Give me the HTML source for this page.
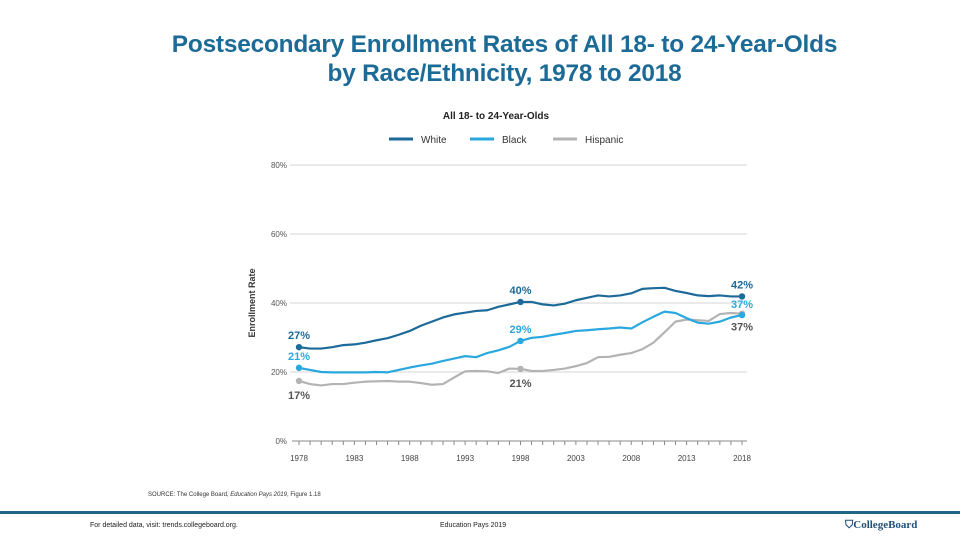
<!DOCTYPE html>
<html><head><meta charset="utf-8">
<style>
body{margin:0;width:960px;height:540px;background:#fff;font-family:"Liberation Sans",sans-serif;overflow:hidden;position:relative}
.t{position:absolute;left:0;width:1009px;text-align:center;color:#1c6a96;font-weight:bold;font-size:24.4px;line-height:29px;top:30px;letter-spacing:-0.2px}
</style></head><body>
<div class="t">Postsecondary Enrollment Rates of All 18- to 24-Year-Olds<br>by Race/Ethnicity, 1978 to 2018</div>
<svg id="c" width="960" height="540" style="position:absolute;left:0;top:0" font-family="Liberation Sans, sans-serif"></svg>
<div style="position:absolute;left:148px;top:492px;font-size:6px;color:#333">SOURCE: The College Board, <i>Education Pays 2019</i>, Figure 1.18</div>
<div style="position:absolute;left:0;top:511px;width:960px;height:3px;background:#1f6585"></div>
<div style="position:absolute;left:90px;top:522px;font-size:7px;color:#222">For detailed data, visit: trends.collegeboard.org.</div>
<div style="position:absolute;left:440px;top:522px;font-size:7px;color:#222">Education Pays 2019</div>
<div style="position:absolute;left:845px;top:519px;font-size:11px;font-weight:bold;color:#1f4f7a;font-family:'Liberation Serif',serif">⛉CollegeBoard</div>
<script>
const years=[];for(let y=1978;y<=2018;y++)years.push(y);
const white=[27.2,26.8,26.8,27.2,27.8,28.0,28.5,29.2,29.8,30.8,31.9,33.4,34.6,35.8,36.7,37.2,37.7,37.9,38.9,39.6,40.3,40.3,39.6,39.3,39.8,40.8,41.5,42.2,41.9,42.2,42.8,44.1,44.3,44.4,43.5,42.9,42.2,42.0,42.2,41.9,41.9];
const black=[21.2,20.6,20.0,19.9,19.9,19.9,19.9,20.0,19.9,20.6,21.3,21.9,22.4,23.2,23.9,24.6,24.3,25.5,26.3,27.3,29.0,29.9,30.2,30.8,31.3,31.9,32.1,32.4,32.6,32.9,32.6,34.4,36.0,37.5,37.1,35.6,34.3,34.0,34.6,35.8,36.5];
const hisp=[17.4,16.5,16.1,16.5,16.5,16.9,17.2,17.3,17.4,17.2,17.2,16.8,16.3,16.5,18.4,20.2,20.3,20.2,19.7,21.0,20.9,20.3,20.3,20.6,21.0,21.7,22.6,24.3,24.4,25.0,25.5,26.6,28.5,31.5,34.6,35.2,35.0,34.8,36.8,37.1,36.9];
const yTicks=[0,20,40,60,80];
const xTicks=[1978,1983,1988,1993,1998,2003,2008,2013,2018];
const svg=document.getElementById('c');const NS='http://www.w3.org/2000/svg';
const X=v=>299+(v-1978)*(742-299)/40, Y=v=>441-v*3.45;
function mk(t,a,txt){const e=document.createElementNS(NS,t);for(const k in a)e.setAttribute(k,a[k]);if(txt!=null)e.textContent=txt;svg.appendChild(e);return e;}
let e=mk('text',{x:496,y:119,'text-anchor':'middle','font-size':10,'font-weight':'bold',fill:'#222'},'All 18- to 24-Year-Olds');


const series=[['White',white,'#1c6a9a',389],['Black',black,'#29a8e0',470],['Hispanic',hisp,'#b3b3b3',553]];
series.forEach(s=>{let l=mk('line',{x1:s[3],x2:s[3]+24,y1:139,y2:139,stroke:s[2],'stroke-width':3});


let t=mk('text',{x:s[3]+32,y:143,'font-size':10,fill:'#333'},s[0]);

});
yTicks.forEach(v=>{if(v>0){let g=mk('line',{x1:290,x2:747,y1:Y(v),y2:Y(v),stroke:'#d6d6d6','stroke-width':1});

}
let t=mk('text',{x:287,y:Y(v)+3,'text-anchor':'end','font-size':8,fill:'#555'},v+'%');

});
let ax=mk('line',{x1:292,x2:747,y1:441,y2:441,stroke:'#888','stroke-width':1});


years.forEach(y=>{let k=mk('line',{x1:X(y),x2:X(y),y1:441,y2:445,stroke:'#888'});

});
xTicks.forEach(y=>{let t=mk('text',{x:X(y),y:461,'text-anchor':'middle','font-size':8,fill:'#444'},y);

});
let yt=mk('text',{x:0,y:0,transform:'translate(255,303) rotate(-90)','text-anchor':'middle','font-size':9,'font-weight':'bold',fill:'#333'},'Enrollment Rate');


[series[2],series[1],series[0]].forEach(s=>{let p=mk('polyline',{points:s[1].map((v,i)=>X(years[i])+','+Y(v)).join(' '),fill:'none',stroke:s[2],'stroke-width':2.2,'stroke-linejoin':'round'});


[0,20,40].forEach(i=>{let c=mk('circle',{cx:X(years[i]),cy:Y(s[1][i]),r:3.2,fill:s[2]});

});});
const lbl=[[white,0,-8,'#1c6a9a'],[white,20,-8,'#1c6a9a'],[white,40,-8,'#1c6a9a'],[black,0,-8,'#29a8e0'],[black,20,-8,'#29a8e0'],[black,40,-7,'#29a8e0'],[hisp,0,18,'#555'],[hisp,20,18,'#555'],[hisp,40,17,'#555']];
lbl.forEach(l=>{const i=l[1];
let t=mk('text',{x:X(years[i]),y:Y(l[0][i])+l[2],'text-anchor':'middle','font-size':11,'font-weight':'bold',fill:l[3]},Math.round(l[0][i])+'%');

});
</script>
</body></html>
